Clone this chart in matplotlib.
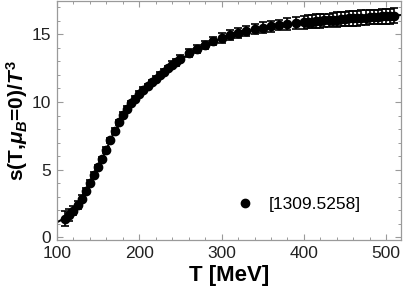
import matplotlib.pyplot as plt
from matplotlib.lines import Line2D
from matplotlib.ticker import MultipleLocator

plt.rcParams['font.family'] = ['Liberation Sans', 'DejaVu Sans']
plt.rcParams['mathtext.fontset'] = 'custom'
plt.rcParams['mathtext.rm'] = 'Liberation Sans:bold'
plt.rcParams['mathtext.it'] = 'Liberation Sans:bold:italic'
plt.rcParams['mathtext.bf'] = 'Liberation Sans:bold'

# lattice points (T in MeV, s/T^3 and its error)
temp = [110, 115, 120, 125, 130, 135, 140, 145, 150, 155, 160, 165, 170, 175,
        180, 185, 190, 195, 200, 205, 210, 215, 220, 225, 230, 235, 240, 245,
        250, 260, 270, 280, 290, 300, 310, 320, 330, 340, 350, 360, 370, 380,
        390, 400, 405, 410, 415, 420, 425, 430, 435, 440, 445, 450, 455, 460,
        465, 470, 475, 480, 485, 490, 495, 500, 505, 510]
entropy = [1.35, 1.65, 1.95, 2.35, 2.85, 3.4, 4.0, 4.6, 5.15, 5.75, 6.45, 7.15,
           7.85, 8.5, 9.05, 9.5, 9.9, 10.25, 10.6, 10.9, 11.15, 11.45, 11.7,
           12.0, 12.25, 12.5, 12.75, 12.95, 13.2, 13.6, 13.95, 14.25, 14.5,
           14.75, 14.95, 15.1, 15.25, 15.4, 15.5, 15.6, 15.7, 15.8, 15.85, 15.9,
           15.95, 15.95, 16.0, 16.0, 16.05, 16.05, 16.1, 16.1, 16.15, 16.15,
           16.2, 16.2, 16.2, 16.25, 16.25, 16.3, 16.3, 16.3, 16.35, 16.35,
           16.35, 16.4]
error = [0.55, 0.45, 0.35, 0.3, 0.25, 0.25, 0.2, 0.2, 0.2, 0.2, 0.2, 0.2,
         0.2, 0.2, 0.2, 0.2, 0.2, 0.2, 0.2, 0.2, 0.2, 0.2, 0.2, 0.2, 0.2,
         0.2, 0.25, 0.25, 0.25, 0.3, 0.3, 0.3, 0.3, 0.35, 0.35, 0.35, 0.35,
         0.4, 0.4, 0.4, 0.4, 0.45, 0.45, 0.5, 0.5, 0.5, 0.5, 0.5, 0.5, 0.5,
         0.5, 0.55, 0.55, 0.55, 0.55, 0.55, 0.55, 0.55, 0.55, 0.55, 0.55,
         0.55, 0.55, 0.55, 0.55, 0.55]

# smooth curve drawn behind the points
curve_t = [100, 110, 130, 150, 170, 190, 210, 250, 300, 350, 400, 450, 520]
curve_s = [1.1, 1.4, 2.85, 5.15, 7.85, 9.9, 11.15, 13.2, 14.75, 15.5, 15.9, 16.15, 16.45]

fig = plt.figure(figsize=(4.03, 2.98), dpi=100)
ax = fig.add_axes([57 / 403, 1 - 240 / 298, 344 / 403, 239 / 298])

ax.plot(curve_t, curve_s, color='black', lw=1.5, zorder=2)
ax.errorbar(temp, entropy, yerr=error, fmt='o', color='black', ms=6,
            elinewidth=1.2, capsize=3, capthick=1.2, zorder=3)

ax.set_xlim(100, 518)
ax.set_ylim(-0.22, 17.48)
ax.xaxis.set_major_locator(MultipleLocator(100))
ax.xaxis.set_minor_locator(MultipleLocator(20))
ax.yaxis.set_major_locator(MultipleLocator(5))
ax.yaxis.set_minor_locator(MultipleLocator(1))

for sp in ax.spines.values():
    sp.set_color('#9a9a9a')
    sp.set_linewidth(0.9)
ax.tick_params(which='both', direction='in', top=True, right=True,
               color='#9a9a9a', labelsize=12.5, labelcolor='#222222')
ax.tick_params(which='major', length=4, width=0.8, pad=4)
ax.tick_params(which='minor', length=2.5, width=0.7)

ax.set_xlabel('T [MeV]', fontsize=16, fontweight='bold', labelpad=3)
ax.set_ylabel(r's(T,$\mu_B$=0)/$T^3$', fontsize=15, fontweight='bold')
ax.yaxis.set_label_coords(-0.078, 0.5)

handle = Line2D([], [], marker='o', color='black', ls='none', ms=6)
ax.legend([handle], ['[1309.5258]'], loc='center left', frameon=False,
          fontsize=12.5, handlelength=1.0, handletextpad=0.9,
          bbox_to_anchor=(0.475, 0.148))

fig.savefig('out.png', dpi=100)
